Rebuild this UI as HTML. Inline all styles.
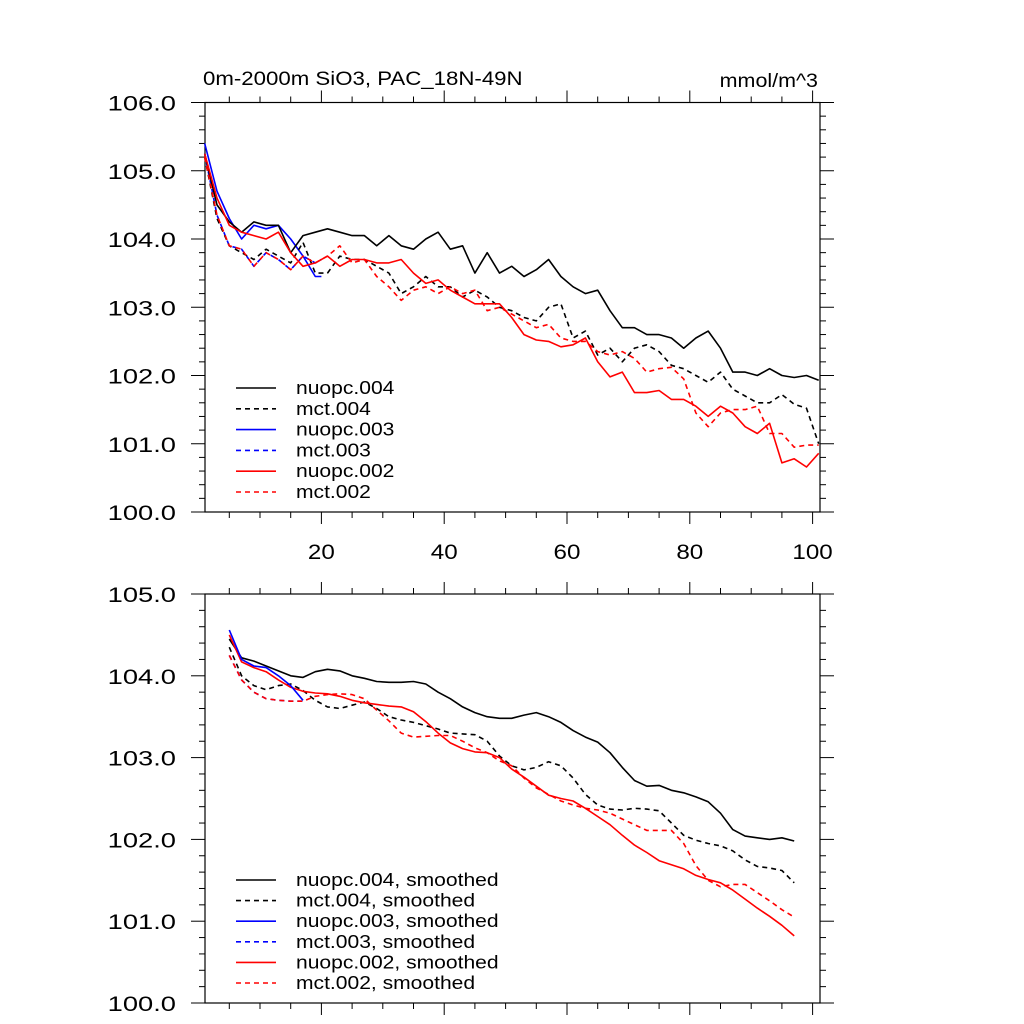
<!DOCTYPE html>
<html><head><meta charset="utf-8">
<style>
html,body{margin:0;padding:0;background:#fff;}
svg{display:block;font-family:"Liberation Sans",Arial,sans-serif;}
</style></head>
<body>
<svg id="chart" width="1024" height="1024" viewBox="0 0 1024 1024" xmlns="http://www.w3.org/2000/svg">
<rect x="0" y="0" width="1024" height="1024" fill="#fff"/>
<text id="title" x="203" y="85" font-size="19">0m-2000m SiO3, PAC_18N-49N</text>
<text id="units" x="818" y="87" font-size="19" text-anchor="end">mmol/m^3</text>
<g id="top"></g>
<g id="bot"></g>
</svg>
<script>
// ---- data ----
const topXOdd = [1,3,5,7,9,11,13,15,17,19,21,23,25,27,29,31,33,35,37,39,41,43,45,47,49,51,53,55,57,59,61,63,65,67,69,71,73,75,77,79,81,83,85,87,89,91,93,95,97,99,101];
const nuopc004 = [105.25,104.5,104.25,104.1,104.25,104.2,104.2,103.8,104.05,104.1,104.15,104.1,104.05,104.05,103.9,104.05,103.9,103.85,104.0,104.1,103.85,103.9,103.5,103.8,103.5,103.6,103.45,103.55,103.7,103.45,103.3,103.2,103.25,102.95,102.7,102.7,102.6,102.6,102.55,102.4,102.55,102.65,102.4,102.05,102.05,102.0,102.1,102.0,101.97,102.0,101.93];
const mct004 = [105.2,104.3,103.9,103.8,103.7,103.85,103.75,103.65,103.95,103.5,103.5,103.75,103.7,103.7,103.6,103.5,103.2,103.3,103.45,103.3,103.3,103.15,103.25,103.15,103.0,102.95,102.85,102.8,103.0,103.05,102.55,102.65,102.3,102.4,102.2,102.4,102.45,102.35,102.15,102.1,102.0,101.9,102.05,101.8,101.7,101.6,101.6,101.72,101.58,101.52,101.0];
const nuopc002 = [105.25,104.6,104.2,104.1,104.05,104.0,104.1,103.8,103.6,103.65,103.75,103.6,103.7,103.7,103.65,103.65,103.7,103.5,103.35,103.4,103.25,103.15,103.05,103.05,103.05,102.85,102.6,102.52,102.5,102.42,102.45,102.55,102.2,101.98,102.05,101.75,101.75,101.78,101.65,101.65,101.55,101.4,101.55,101.45,101.25,101.15,101.3,100.72,100.78,100.66,100.86];
const mct002 = [105.2,104.35,103.9,103.85,103.6,103.8,103.7,103.55,103.75,103.65,103.75,103.9,103.65,103.7,103.45,103.3,103.1,103.25,103.3,103.2,103.3,103.2,103.25,102.95,103.0,102.9,102.8,102.7,102.75,102.55,102.5,102.5,102.35,102.3,102.35,102.25,102.05,102.1,102.12,101.95,101.45,101.25,101.45,101.5,101.5,101.55,101.15,101.15,100.95,100.98,100.98];
const topXBlue = [1,3,5,7,9,11,13,15,17,19,20];
const nuopc003 = [105.4,104.7,104.3,104.0,104.2,104.15,104.2,104.0,103.75,103.45,103.45];
const mct003 = [105.25,104.35,103.9,103.85,103.6,103.8,103.7,103.55,103.75,103.65,103.7];

const botX = [5,7,9,11,13,15,17,19,21,23,25,27,29,31,33,35,37,39,41,43,45,47,49,51,53,55,57,59,61,63,65,67,69,71,73,75,77,79,81,83,85,87,89,91,93,95,97];
const sNuopc004 = [104.45,104.22,104.18,104.12,104.06,104.0,103.98,104.05,104.08,104.06,104.0,103.97,103.93,103.92,103.92,103.93,103.9,103.8,103.72,103.62,103.55,103.5,103.48,103.48,103.52,103.55,103.5,103.43,103.33,103.25,103.19,103.06,102.88,102.72,102.65,102.66,102.6,102.57,102.52,102.46,102.32,102.12,102.04,102.02,102.0,102.02,101.98];
const sMct004 = [104.35,104.0,103.88,103.83,103.88,103.9,103.82,103.7,103.62,103.6,103.64,103.68,103.6,103.5,103.46,103.43,103.39,103.35,103.3,103.29,103.28,103.2,103.02,102.9,102.85,102.88,102.95,102.9,102.75,102.55,102.42,102.37,102.36,102.38,102.37,102.35,102.2,102.05,101.99,101.95,101.92,101.86,101.75,101.67,101.65,101.62,101.47];
const sNuopc002 = [104.5,104.17,104.1,104.05,103.95,103.86,103.81,103.79,103.78,103.75,103.7,103.67,103.65,103.63,103.62,103.56,103.44,103.3,103.18,103.11,103.07,103.06,103.0,102.86,102.76,102.65,102.54,102.5,102.47,102.38,102.28,102.18,102.05,101.93,101.84,101.74,101.69,101.64,101.56,101.51,101.47,101.38,101.27,101.16,101.06,100.95,100.82];
const sMct002 = [104.25,103.95,103.8,103.72,103.7,103.69,103.69,103.75,103.77,103.78,103.77,103.72,103.58,103.45,103.3,103.25,103.26,103.27,103.27,103.2,103.12,103.06,102.96,102.9,102.75,102.63,102.55,102.47,102.42,102.38,102.36,102.32,102.25,102.18,102.11,102.11,102.11,101.95,101.68,101.5,101.42,101.45,101.45,101.35,101.25,101.14,101.05];
const botXBlue = [5,7,9,11,13,15,17];
const sNuopc003 = [104.56,104.2,104.12,104.1,104.0,103.88,103.7];
const sMct003 = [104.25,103.95,103.8,103.72,103.7,103.69,103.69];

const topYTicks = ["100.0","101.0","102.0","103.0","104.0","105.0","106.0"];
const botYTicks = ["100.0","101.0","102.0","103.0","104.0","105.0"];
const xTickLabels = ["20","40","60","80","100"];

// ---- drawing ----
const NS = "http://www.w3.org/2000/svg";
const L = 205, R = 820;
function xs(v){ return 198.6 + v * 6.14; }
function mk(tag, attrs, parent){
  const e = document.createElementNS(NS, tag);
  for (const k in attrs) e.setAttribute(k, attrs[k]);
  parent.appendChild(e); return e;
}
function stretch(t, k){
  const w = t.getComputedTextLength();
  if (w > 0) { t.setAttribute("textLength", (w * k).toFixed(1)); t.setAttribute("lengthAdjust", "spacingAndGlyphs"); }
}
function panel(g, top, bottom, ymin, ymax, yLabels, showXLabels, prefix){
  const ys = v => bottom - (v - ymin) / (ymax - ymin) * (bottom - top);
  const frame = mk("rect", {x:L, y:top, width:R-L, height:bottom-top, fill:"none", stroke:"#000", "stroke-width":1.2}, g);
  
  
  for (let v = ymin; v <= ymax + 1e-6; v += 0.2) {
    const y = ys(v);
    const major = Math.abs(v - Math.round(v)) < 1e-6;
    const len = major ? 14 : 6;
    mk("line", {x1:L-len, x2:L, y1:y, y2:y, stroke:"#000", "stroke-width":1}, g);
    mk("line", {x1:R, x2:R+len, y1:y, y2:y, stroke:"#000", "stroke-width":1}, g);
  }
  yLabels.forEach((lab, i) => {
    const t = mk("text", {x:176, y:ys(ymin + i) + 8, "font-size":21, "text-anchor":"end"}, g);
    t.textContent = lab;
    
    
    stretch(t, 1.3);
  });
  for (let v = 5; v <= 100; v += 5) {
    const x = xs(v);
    const major = v % 20 === 0;
    const len = major ? 12 : 6;
    mk("line", {x1:x, x2:x, y1:top-len, y2:top, stroke:"#000", "stroke-width":1}, g);
    mk("line", {x1:x, x2:x, y1:bottom, y2:bottom+len, stroke:"#000", "stroke-width":1}, g);
  }
  if (showXLabels) {
    xTickLabels.forEach(lab => {
      const t = mk("text", {x:xs(+lab), y:bottom+47, "font-size":21, "text-anchor":"middle"}, g);
      t.textContent = lab;
      
      
      stretch(t, 1.15);
    });
  }
  return ys;
}
function series(g, ys, xArr, vals, color, dashed, name){
  const pts = xArr.map((x, i) => xs(x).toFixed(1) + "," + ys(vals[i]).toFixed(1)).join(" ");
  const p = mk("polyline", {points:pts, fill:"none", stroke:color, "stroke-width":1.6, "stroke-dasharray": dashed ? "5,4" : "none", "stroke-linejoin":"round"}, g);
  
  
}
function legend(g, y0, dy, entries, prefix){
  entries.forEach((e, i) => {
    const y = y0 + i * dy;
    mk("line", {x1:236, x2:276, y1:y, y2:y, stroke:e[1], "stroke-width":1.6, "stroke-dasharray": e[2] ? "5,4" : "none"}, g);
    const t = mk("text", {x:296, y:y + 6, "font-size":18}, g);
    t.textContent = e[0];
    
    
    stretch(t, 1.17);
  });
}

stretch(document.getElementById("title"), 1.17);
stretch(document.getElementById("units"), 1.13);

const gt = document.getElementById("top");
const ysT = panel(gt, 102.5, 512, 100, 106, topYTicks, true, "top");
series(gt, ysT, topXBlue, mct003, "#00f", true, "top-mct003-line");
series(gt, ysT, topXBlue, nuopc003, "#00f", false, "top-nuopc003-line");
series(gt, ysT, topXOdd, mct004, "#000", true, "top-mct004-line");
series(gt, ysT, topXOdd, nuopc004, "#000", false, "top-nuopc004-line");
series(gt, ysT, topXOdd, mct002, "#f00", true, "top-mct002-line");
series(gt, ysT, topXOdd, nuopc002, "#f00", false, "top-nuopc002-line");
legend(gt, 388, 20.8, [["nuopc.004","#000",false],["mct.004","#000",true],["nuopc.003","#00f",false],["mct.003","#00f",true],["nuopc.002","#f00",false],["mct.002","#f00",true]], "top");

const gb = document.getElementById("bot");
const ysB = panel(gb, 594, 1003, 100, 105, botYTicks, false, "bottom");
series(gb, ysB, botXBlue, sMct003, "#00f", true, "bottom-mct003-line");
series(gb, ysB, botX, sNuopc004, "#000", false, "bottom-nuopc004-line");
series(gb, ysB, botX, sMct004, "#000", true, "bottom-mct004-line");
series(gb, ysB, botX, sMct002, "#f00", true, "bottom-mct002-line");
series(gb, ysB, botX, sNuopc002, "#f00", false, "bottom-nuopc002-line");
series(gb, ysB, botXBlue, sNuopc003, "#00f", false, "bottom-nuopc003-line");
legend(gb, 880, 20.6, [["nuopc.004, smoothed","#000",false],["mct.004, smoothed","#000",true],["nuopc.003, smoothed","#00f",false],["mct.003, smoothed","#00f",true],["nuopc.002, smoothed","#f00",false],["mct.002, smoothed","#f00",true]], "bottom");
</script>
</body></html>
